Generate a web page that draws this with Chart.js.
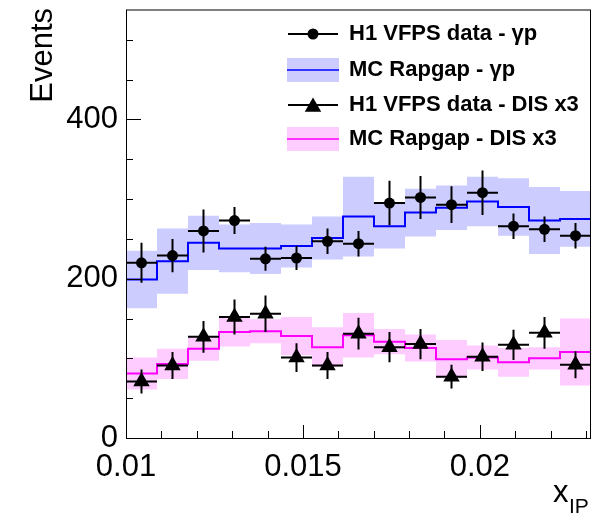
<!DOCTYPE html>
<html>
<head>
<meta charset="utf-8">
<script src="https://cdn.jsdelivr.net/npm/chart.js@4.4.0/dist/chart.umd.min.js"></script>
<style>
  html, body { margin: 0; padding: 0; background: #fff; }
  #wrap { width: 611px; height: 517px; }
</style>
</head>
<body>
<div id="wrap"><canvas id="xipCanvas" width="611" height="517"></canvas></div>
<script>
// x_IP bin edges (15 bins)
const binEdges = [0.01, 0.010876, 0.011752, 0.012628, 0.013504, 0.01438, 0.015256, 0.016132,
                  0.017008, 0.017884, 0.01876, 0.019636, 0.020512, 0.021388, 0.022264, 0.02314];

// photoproduction
const gpData = [220, 229, 260, 273, 225, 226, 247, 244, 295, 302, 293, 308, 266, 262, 254];
const gpErr  = [25, 21, 27, 17, 15, 15, 16, 16, 28, 27, 23, 28, 16, 16, 16];
const gpMC    = [199, 222, 245, 238, 238, 241, 251, 278, 266, 283, 289, 297, 290, 273, 275];
const gpMCErr = [36, 41, 34, 30, 32, 27, 27, 50, 28, 30, 28, 31, 36, 42, 35];

// DIS, scaled x3
const disData = [71, 91, 127, 152, 156, 101, 91, 131, 114, 118, 77, 102, 117, 132, 92];
const disErr  = [15, 17, 20, 22, 23, 18, 17, 20, 19, 19, 15, 18, 19, 20, 17];
const disMC    = [81, 93, 112, 133, 134, 128, 114, 129, 121, 113, 99, 101, 95, 100, 108];
const disMCErr = [20, 19, 15, 18, 15, 24, 25, 28, 16, 17, 24, 15, 18, 14, 42];

const legendLabels = ["H1 VFPS data - \u03b3p", "MC Rapgap - \u03b3p",
                      "H1 VFPS data - DIS x3", "MC Rapgap - DIS x3"];

const FONT = "'Liberation Sans', Arial, Helvetica, sans-serif";

// flat top per bin, vertical steps between bins
function histPoints(values, errs, sign) {
    let pts = [];
    for (let i = 0; i < values.length; i++) {
        const y = values[i] + (errs ? sign * errs[i] : 0);
        pts.push({x: binEdges[i], y: y});
        pts.push({x: binEdges[i + 1], y: y});
    }
    return pts;
}

// vertical error + horizontal bin-width bar, separated by gaps
function errorBarPoints(values, errs) {
    let pts = [];
    for (let i = 0; i < values.length; i++) {
        const c = (binEdges[i] + binEdges[i + 1]) / 2;
        pts.push({x: c, y: values[i] - errs[i]}, {x: c, y: values[i] + errs[i]}, {x: c, y: null});
        pts.push({x: binEdges[i], y: values[i]}, {x: binEdges[i + 1], y: values[i]}, {x: binEdges[i + 1], y: null});
    }
    return pts;
}

function markerPoints(values) {
    return values.map((v, i) => ({x: (binEdges[i] + binEdges[i + 1]) / 2, y: v}));
}

function drawTriangle(ctx, x, y, r) {
    ctx.beginPath();
    ctx.moveTo(x, y - r);
    ctx.lineTo(x + r * Math.sin(2 * Math.PI / 3), y + r / 2);
    ctx.lineTo(x - r * Math.sin(2 * Math.PI / 3), y + r / 2);
    ctx.closePath();
    ctx.fill();
}

// frame, inside ticks, axis titles and legend
const frameAndLegend = {
    id: 'frameAndLegend',
    afterDraw(chart) {
        const ctx = chart.ctx;
        const area = chart.chartArea;
        const xs = chart.scales.x, ys = chart.scales.y;
        ctx.save();

        ctx.strokeStyle = '#000';
        ctx.lineWidth = 1;
        ctx.strokeRect(area.left + 0.5, area.top + 0.5, area.right - area.left - 1, area.bottom - area.top);

        ctx.beginPath();
        xs.ticks.forEach(t => {
            const px = Math.round(xs.getPixelForValue(t.value)) + 0.5;
            const major = Math.round(t.value * 1000) % 5 === 0;
            ctx.moveTo(px, area.bottom);
            ctx.lineTo(px, area.bottom - (major ? 13 : 7));
        });
        ys.ticks.forEach(t => {
            const py = Math.round(ys.getPixelForValue(t.value)) + 0.5;
            const major = t.value % 200 === 0;
            ctx.moveTo(area.left, py);
            ctx.lineTo(area.left + (major ? 15 : 7), py);
        });
        ctx.stroke();

        // axis titles
        ctx.fillStyle = '#000';
        ctx.font = '31px ' + FONT;
        ctx.textAlign = 'left';
        ctx.textBaseline = 'alphabetic';
        ctx.fillText('x', 553, 502);
        ctx.font = '21px ' + FONT;
        ctx.fillText('IP', 569, 513);

        ctx.save();
        ctx.translate(52, 8);
        ctx.rotate(-Math.PI / 2);
        ctx.font = '31px ' + FONT;
        ctx.textAlign = 'right';
        ctx.fillText('Events', 0, 0);
        ctx.restore();

        // legend
        const lx0 = 288, lx1 = 338, lxm = 313, tx = 349;
        const rows = [34, 70, 105, 139];
        ctx.font = 'bold 22px ' + FONT;
        ctx.textBaseline = 'middle';
        ctx.textAlign = 'left';

        ctx.strokeStyle = '#000';
        ctx.lineWidth = 2;
        ctx.beginPath();
        ctx.moveTo(lx0, rows[0]); ctx.lineTo(lx1, rows[0]);
        ctx.moveTo(lx0, rows[2]); ctx.lineTo(lx1, rows[2]);
        ctx.stroke();
        ctx.fillStyle = '#000';
        ctx.beginPath();
        ctx.arc(lxm, rows[0], 5.5, 0, 2 * Math.PI);
        ctx.fill();
        drawTriangle(ctx, lxm, rows[2] + 2, 9.5);

        ctx.fillStyle = '#ccccff';
        ctx.fillRect(287, rows[1] - 12, 52, 24);
        ctx.fillStyle = '#ffccff';
        ctx.fillRect(287, rows[3] - 12, 52, 24);
        ctx.lineWidth = 1.5;
        ctx.strokeStyle = '#0000ff';
        ctx.beginPath(); ctx.moveTo(287, rows[1]); ctx.lineTo(339, rows[1]); ctx.stroke();
        ctx.strokeStyle = '#ff00ff';
        ctx.beginPath(); ctx.moveTo(287, rows[3]); ctx.lineTo(339, rows[3]); ctx.stroke();

        ctx.fillStyle = '#000';
        legendLabels.forEach((txt, i) => ctx.fillText(txt, tx, rows[i]));

        ctx.restore();
    }
};

const ctx = document.getElementById('xipCanvas').getContext('2d');
const xipChart = new Chart(ctx, {
    type: 'line',
    data: {
        datasets: [
            // markers on top
            { data: markerPoints(gpData), showLine: false, pointStyle: 'circle', pointRadius: 5.5,
              pointBackgroundColor: '#000', pointBorderColor: '#000', pointBorderWidth: 0, order: 0 },
            { data: markerPoints(disData), showLine: false, pointStyle: 'triangle', pointRadius: 9.5,
              pointBackgroundColor: '#000', pointBorderColor: '#000', pointBorderWidth: 0, order: 0 },
            // error bars
            { data: errorBarPoints(gpData, gpErr), borderColor: '#000', borderWidth: 2, pointRadius: 0, spanGaps: false, order: 1 },
            { data: errorBarPoints(disData, disErr), borderColor: '#000', borderWidth: 2, pointRadius: 0, spanGaps: false, order: 1 },
            // MC histograms
            { data: histPoints(gpMC), borderColor: '#0000ff', borderWidth: 2, pointRadius: 0, order: 2 },
            { data: histPoints(disMC), borderColor: '#ff00ff', borderWidth: 2, pointRadius: 0, order: 2 },
            // MC uncertainty bands
            { data: histPoints(gpMC, gpMCErr, 1), borderWidth: 0, pointRadius: 0, fill: '+1',
              backgroundColor: '#ccccff', order: 3 },
            { data: histPoints(gpMC, gpMCErr, -1), borderWidth: 0, pointRadius: 0, fill: false, order: 3 },
            { data: histPoints(disMC, disMCErr, 1), borderWidth: 0, pointRadius: 0, fill: '+1',
              backgroundColor: '#ffccff', order: 3 },
            { data: histPoints(disMC, disMCErr, -1), borderWidth: 0, pointRadius: 0, fill: false, order: 3 }
        ]
    },
    plugins: [frameAndLegend],
    options: {
        responsive: false,
        animation: false,
        devicePixelRatio: 1,
        layout: { padding: { top: 8, right: 20, left: 0, bottom: 0 } },
        plugins: {
            legend: { display: false },
            tooltip: { enabled: false }
        },
        scales: {
            x: {
                type: 'linear',
                min: 0.01,
                max: 0.02314,
                grid: { display: false, drawTicks: false },
                border: { display: false },
                ticks: {
                    stepSize: 0.001,
                    includeBounds: false,
                    autoSkip: false,
                    maxRotation: 0,
                    padding: 11,
                    color: '#000',
                    font: { family: FONT, size: 31 },
                    callback: function (v) {
                        const m = Math.round(v * 1000);
                        return m % 5 === 0 ? String(m / 1000) : '';
                    }
                },
                afterFit: function (scale) {
                    scale.height = 79;
                    scale.paddingLeft = 0;
                    scale.paddingRight = 0;
                }
            },
            y: {
                min: 0,
                max: 538,
                grid: { display: false, drawTicks: false },
                border: { display: false },
                ticks: {
                    stepSize: 50,
                    includeBounds: false,
                    autoSkip: false,
                    padding: 8,
                    color: '#000',
                    font: { family: FONT, size: 31 },
                    callback: function (v) { return v % 200 === 0 ? String(v) : ''; }
                },
                afterFit: function (scale) {
                    scale.width = 126;
                    scale.paddingTop = 0;
                    scale.paddingBottom = 0;
                }
            }
        }
    }
});
</script>
</body>
</html>
